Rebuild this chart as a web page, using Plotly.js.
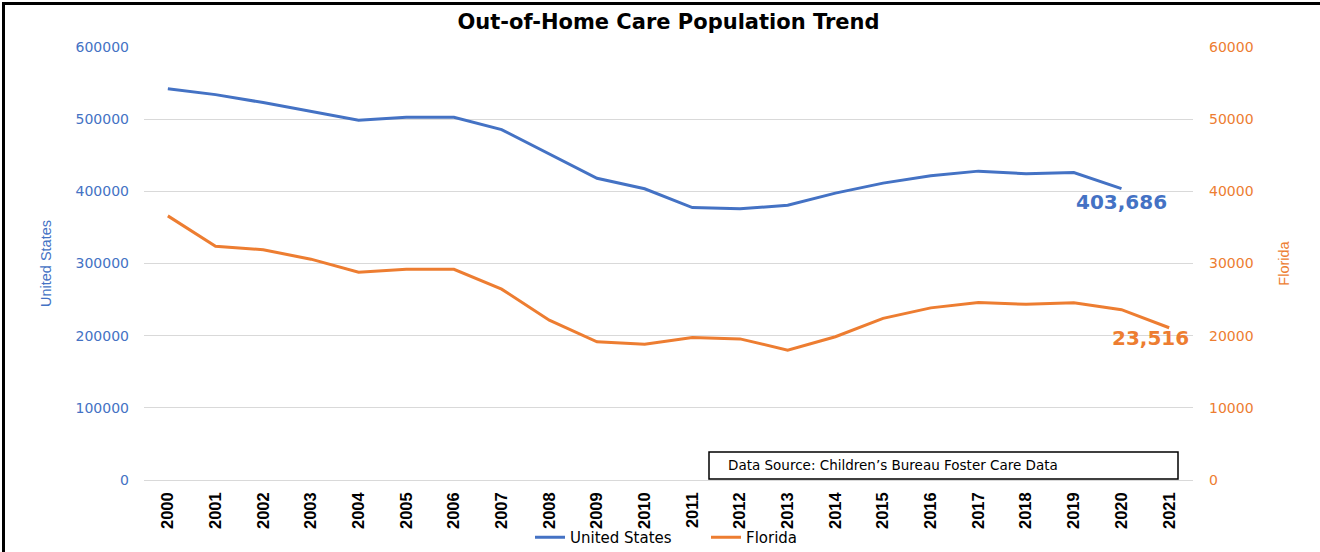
<!DOCTYPE html>
<html>
<head>
<meta charset="utf-8">
<script src="https://cdn.plot.ly/plotly-3.0.1.min.js"></script>
<style>
  html, body { margin: 0; padding: 0; background: #ffffff; }
  #chart { width: 1320px; height: 552px; }
</style>
</head>
<body>
<div id="chart"></div>
<script>
// ---- data ----
const years = ["2000","2001","2002","2003","2004","2005","2006","2007","2008","2009","2010",
               "2011","2012","2013","2014","2015","2016","2017","2018","2019","2020","2021"];
const unitedStates = [542000, 534000, 523000, 511000, 498500, 502500, 502500, 485500, 452000, 418000, 403500,
                      377500, 375700, 380800, 397500, 411400, 421500, 428000, 424300, 426100, 403686, null];
const florida = [36600, 32400, 31900, 30600, 28800, 29200, 29200, 26450, 22150, 19150, 18800,
                 19750, 19550, 18000, 19850, 22400, 23850, 24600, 24350, 24550, 23600, 21100];
const leftTicks = [0, 100000, 200000, 300000, 400000, 500000, 600000];
const rightTicks = [0, 10000, 20000, 30000, 40000, 50000, 60000];
const usLabel = "403,686";
const flLabel = "23,516";
const chartTitle = "Out-of-Home Care Population Trend";
const sourceText = "Data Source: Children\u2019s Bureau Foster Care Data";

const BLUE = "#4472C4";
const ORANGE = "#ED7D31";

// plot area geometry (pixels)
const W = 1320, H = 552;
const M = {l: 144, r: 127, t: 47, b: 72};
const PW = W - M.l - M.r, PH = H - M.t - M.b;
const px = v => (v - M.l) / PW;           // pixel x -> paper x
const py = v => (H - M.b - v) / PH;       // pixel y -> paper y

const traces = [
  {
    x: years, y: unitedStates, name: "United States", type: "scatter", mode: "lines",
    line: {color: BLUE, width: 3}, yaxis: "y", connectgaps: false
  },
  {
    x: years, y: florida, name: "Florida", type: "scatter", mode: "lines",
    line: {color: ORANGE, width: 3}, yaxis: "y2"
  }
];

const usLast = unitedStates.length - 2;   // index of last US value (2020)
const flLast = florida.length - 1;        // index of last Florida value (2021)

const layout = {
  width: W, height: H,
  margin: M,
  paper_bgcolor: "#ffffff",
  plot_bgcolor: "#ffffff",
  showlegend: true,
  title: {
    text: "<b>" + chartTitle + "</b>",
    font: {family: "DejaVu Sans", size: 21, color: "#000000"},
    x: 0.5, xref: "paper", xanchor: "center",
    y: 1 - 22 / H, yref: "container", yanchor: "middle"
  },
  xaxis: {
    type: "category",
    categoryorder: "array", categoryarray: years,
    range: [-0.5, years.length - 0.5],
    autorange: false,
    automargin: false,
    tickangle: -90,
    tickfont: {family: "Liberation Sans, sans-serif", size: 16.5, color: "#000000", weight: "bold"},
    showgrid: false, zeroline: false, showline: false, ticks: "",
    ticklabelstandoff: 8,
    fixedrange: true
  },
  yaxis: {
    range: [0, 600000],
    autorange: false,
    tickvals: leftTicks,
    ticktext: leftTicks.map(String),
    tickfont: {family: "DejaVu Sans", size: 14, color: BLUE},
    showgrid: true, gridcolor: "#d9d9d9", gridwidth: 1,
    zeroline: true, zerolinecolor: "#d9d9d9", zerolinewidth: 1,
    showline: false, ticks: "",
    ticklabelstandoff: 14,
    title: {
      text: "United States",
      font: {family: "Liberation Sans, sans-serif", size: 14.5, color: BLUE},
      standoff: 20
    },
    automargin: false,
    fixedrange: true
  },
  yaxis2: {
    overlaying: "y", side: "right",
    range: [0, 60000],
    autorange: false,
    tickvals: rightTicks,
    ticktext: rightTicks.map(String),
    tickfont: {family: "DejaVu Sans", size: 14, color: ORANGE},
    showgrid: false, zeroline: false, showline: false, ticks: "",
    ticklabelstandoff: 15,
    title: {
      text: "Florida",
      font: {family: "Liberation Sans, sans-serif", size: 14.5, color: ORANGE},
      standoff: 26
    },
    automargin: false,
    fixedrange: true
  },
  legend: {
    orientation: "h",
    xref: "container", yref: "container",
    x: 530 / W, xanchor: "left",
    y: 1 - 537.5 / H, yanchor: "middle",
    entrywidthmode: "pixels", entrywidth: 131,
    font: {family: "DejaVu Sans", size: 15, color: "#000000"},
    bgcolor: "rgba(0,0,0,0)"
  },
  annotations: [
    {
      xref: "x", yref: "y", x: usLast, y: unitedStates[usLast],
      text: "<b>" + usLabel + "</b>", showarrow: false,
      font: {family: "DejaVu Sans", size: 20, color: BLUE},
      xanchor: "center", yanchor: "middle", xshift: 0, yshift: -13
    },
    {
      xref: "x", yref: "y2", x: flLast, y: florida[flLast],
      text: "<b>" + flLabel + "</b>", showarrow: false,
      font: {family: "DejaVu Sans", size: 20, color: ORANGE},
      xanchor: "center", yanchor: "middle", xshift: -19, yshift: -10
    },
    {
      xref: "paper", yref: "paper", x: px(726), y: py(464.5),
      text: sourceText, showarrow: false,
      font: {family: "DejaVu Sans", size: 13.5, color: "#000000"},
      xanchor: "left", yanchor: "middle"
    }
  ],
  shapes: [
    { // data source box
      type: "rect", xref: "paper", yref: "paper",
      x0: px(709), x1: px(1178), y0: py(452), y1: py(479),
      line: {color: "#000000", width: 1.5}, fillcolor: "rgba(0,0,0,0)"
    },
    { // outer frame: left edge
      type: "line", xref: "paper", yref: "paper",
      x0: px(3.5), x1: px(3.5), y0: py(2.5), y1: py(552),
      line: {color: "#000000", width: 3}
    },
    { // outer frame: top edge
      type: "line", xref: "paper", yref: "paper",
      x0: px(2), x1: px(1320), y0: py(3.5), y1: py(3.5),
      line: {color: "#000000", width: 3}
    }
  ]
};

Plotly.newPlot("chart", traces, layout, {displayModeBar: false, staticPlot: true});
</script>
</body>
</html>
